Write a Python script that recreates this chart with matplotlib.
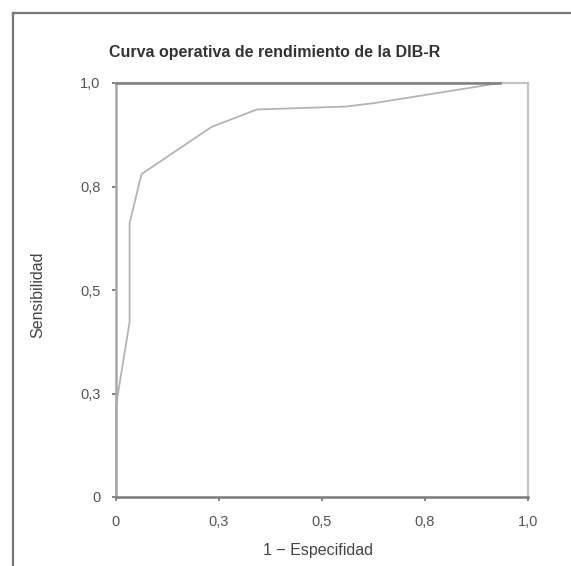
import matplotlib
matplotlib.use("Agg")
import matplotlib.pyplot as plt
from matplotlib.lines import Line2D

plt.rcParams['font.family'] = ['Liberation Sans', 'DejaVu Sans']

title = "Curva operativa de rendimiento de la DIB-R"
xlabel = "1 \u2212 Especifidad"
ylabel = "Sensibilidad"

fpr = [0.0, 0.0, 0.033, 0.033, 0.062, 0.232, 0.342, 0.556, 0.624, 0.932]
tpr = [0.0, 0.22, 0.423, 0.662, 0.780, 0.894, 0.936, 0.943, 0.951, 1.0]

tick_values = [0.0, 0.25, 0.5, 0.75, 1.0]
tick_labels = ["0", "0,3", "0,5", "0,8", "1,0"]

W, H = 571, 566
fig = plt.figure(figsize=(W / 100, H / 100), dpi=100)
ax = fig.add_axes([116 / W, 1 - 497 / H, (528 - 116) / W, (497 - 83) / H])

ax.plot(fpr, tpr, color="#b4b4b4", lw=1.3, zorder=2, clip_on=False)
# top edge darkened where the curve meets sensitivity 1
ax.plot([0, fpr[-1]], [1, 1], color="#808080", lw=1.8, zorder=3, clip_on=False)

ax.set_xlim(0, 1)
ax.set_ylim(0, 1)
ax.set_xticks(tick_values)
ax.set_xticklabels(tick_labels)
ax.set_yticks(tick_values)
ax.set_yticklabels(tick_labels)

for side in ["top", "right"]:
    ax.spines[side].set_color("#c4c4c4")
    ax.spines[side].set_linewidth(1.6)
ax.spines["left"].set_color("#a8a8a8")
ax.spines["left"].set_linewidth(1.8)
ax.spines["bottom"].set_color("#7a7a7a")
ax.spines["bottom"].set_linewidth(1.8)

ax.tick_params(axis="both", direction="out", length=3, width=1.2, color="#707070",
               labelsize=10.5, labelcolor="#555555")
ax.tick_params(axis="x", pad=10)
ax.tick_params(axis="y", pad=8)

fig.text(318 / W, 1 - 550 / H, xlabel, ha="center", va="center",
         fontsize=11.5, color="#444444")
fig.text(38 / W, 1 - 295 / H, ylabel, ha="center", va="center", rotation=90,
         fontsize=11.5, color="#444444")
fig.text(275 / W, 1 - 52 / H, title, ha="center", va="center",
         fontsize=11.5, color="#333333", fontweight="bold")

# outer frame (top and left edges visible)
fig.add_artist(Line2D([13 / W, 13 / W], [0, 1 - 13 / H], transform=fig.transFigure,
                      color="#777777", lw=1.6))
fig.add_artist(Line2D([13 / W, 1], [1 - 13 / H, 1 - 13 / H], transform=fig.transFigure,
                      color="#777777", lw=1.6))

fig.savefig("out.png", dpi=100)
